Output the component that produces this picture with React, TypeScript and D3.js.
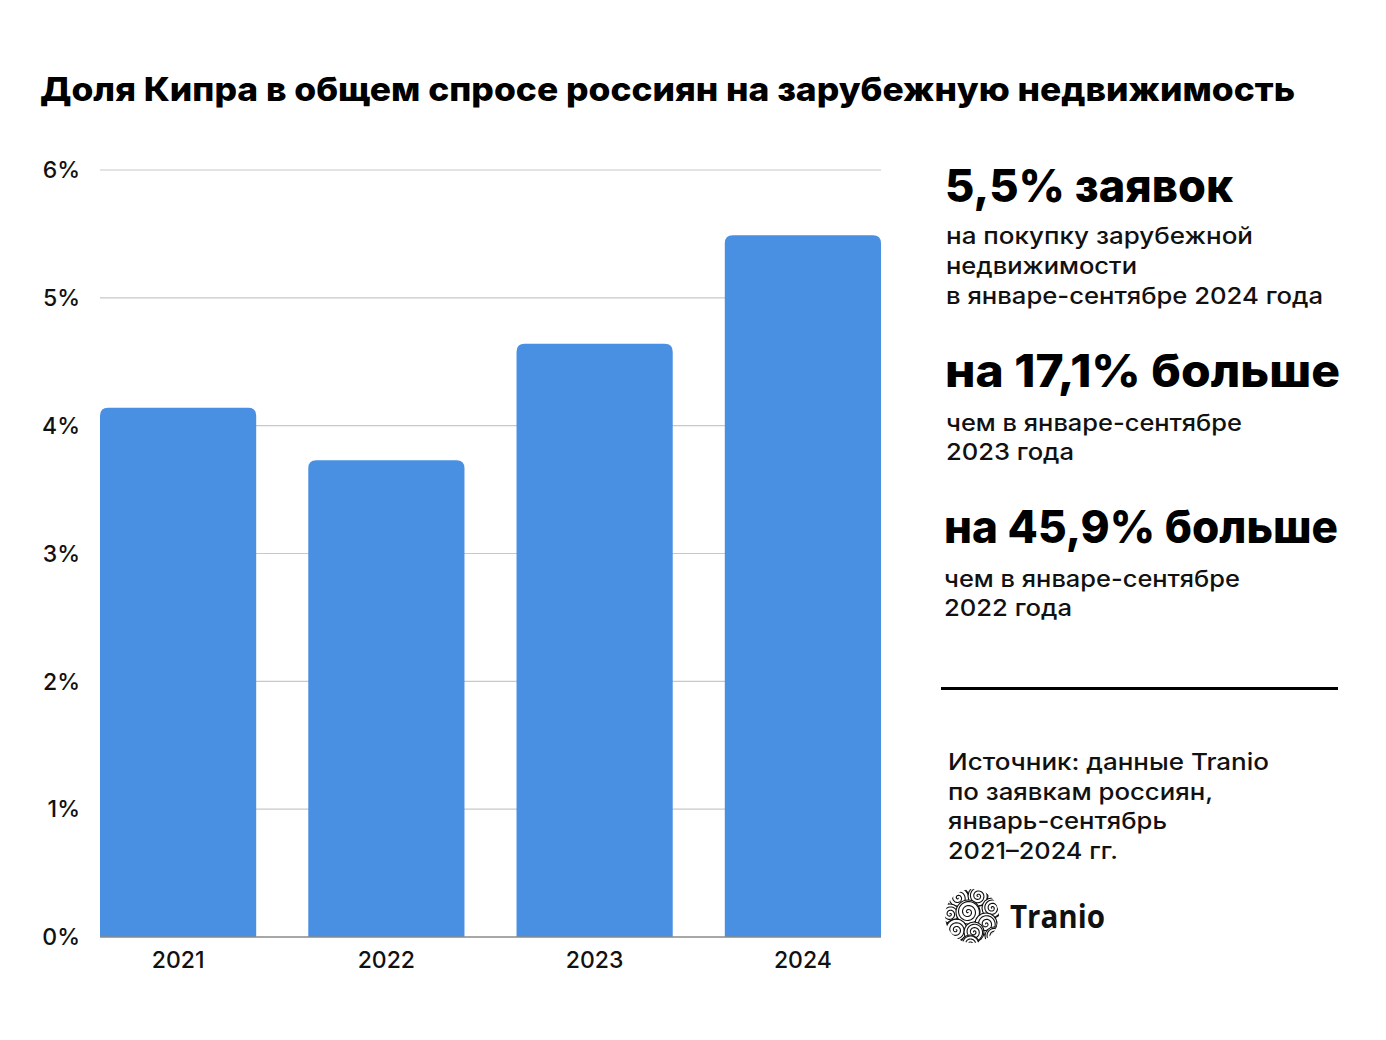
import React from "react";
import * as d3 from "d3";

const years = ["2021", "2022", "2023", "2024"];
const shares = [4.14, 3.73, 4.64, 5.49];
const yTicks = [0, 1, 2, 3, 4, 5, 6];

const title = "Доля Кипра в общем спросе россиян на зарубежную недвижимость";

const highlight1 = "5,5% заявок";
const highlight1Lines = ["на покупку зарубежной", "недвижимости", "в январе-сентябре 2024 года"];
const highlight2 = "на 17,1% больше";
const highlight2Lines = ["чем в январе-сентябре", "2023 года"];
const highlight3 = "на 45,9% больше";
const highlight3Lines = ["чем в январе-сентябре", "2022 года"];
const sourceLines = ["Источник: данные Tranio", "по заявкам россиян,", "январь-сентябрь", "2021–2024 гг."];

const W = 1386;
const H = 1040;
const plotLeft = 100;
const plotRight = 881;
const plotTop = 170;
const plotBottom = 937;

const FONT = "Inter, 'Noto Sans', 'DejaVu Sans', sans-serif";

function topRoundedBar(x: number, y: number, w: number, h: number, r: number) {
  const rr = Math.min(r, w / 2, h);
  return `M${x},${y + h}V${y + rr}Q${x},${y} ${x + rr},${y}H${x + w - rr}Q${x + w},${y} ${x + w},${y + rr}V${y + h}Z`;
}

function spiralPath(cx: number, cy: number, r: number, turns: number, rot: number) {
  const pts: [number, number][] = [];
  const n = 120;
  for (let i = 0; i <= n; i++) {
    const t = i / n;
    const a = rot + t * turns * 2 * Math.PI;
    const rad = r * t;
    pts.push([cx + rad * Math.cos(a), cy + rad * Math.sin(a)]);
  }
  return d3.line()(pts) as string;
}

const logoSpirals: [number, number, number, number][] = [
  [-14, -18, 11, 0.3],
  [6, -20, 10, 1.5],
  [20, -8, 10, 2.2],
  [-22, -2, 10, 4.0],
  [-4, -4, 12, 0.9],
  [14, 8, 11, 3.1],
  [-16, 14, 11, 5.0],
  [2, 16, 10, 2.7],
  [22, 20, 9, 1.2],
  [-2, 28, 9, 0.5],
];

function Logo({ cx, cy, r }: { cx: number; cy: number; r: number }) {
  return (
    <g>
      <defs>
        <clipPath id="logoClip">
          <circle cx={cx} cy={cy} r={r} />
        </clipPath>
      </defs>
      <g clipPath="url(#logoClip)">
        <circle cx={cx} cy={cy} r={r} fill="#fff" />
        {logoSpirals.map((s, i) => (
          <g key={i}>
            <circle cx={cx + s[0]} cy={cy + s[1]} r={s[2]} fill="#fff" stroke="#111" strokeWidth={1.1} />
            <path d={spiralPath(cx + s[0], cy + s[1], s[2], 3, s[3])} fill="none" stroke="#111" strokeWidth={1.1} />
          </g>
        ))}
      </g>
    </g>
  );
}

export default function App() {
  const x = d3.scaleBand<string>().domain(years).range([plotLeft, plotRight]).paddingInner(0.25).paddingOuter(0);
  const y = d3.scaleLinear().domain([0, 6]).range([plotBottom, plotTop]);

  const bigSize = 45;
  const smallSize = 23;

  return (
    <svg width={W} height={H} viewBox={`0 0 ${W} ${H}`} style={{ display: "block", position: "absolute", left: 0, top: 0, background: "#fff" }}>
      <rect x={0} y={0} width={W} height={H} fill="#fff" />
      <text x={40} y={101} fontFamily={FONT} fontWeight={800} fontSize={33} fill="#000" textLength={1255} lengthAdjust="spacingAndGlyphs">
        {title}
      </text>

      {yTicks.map((t) => (
        <g key={t}>
          {t > 0 && (
            <line x1={plotLeft} x2={plotRight} y1={y(t)} y2={y(t)} stroke="#c8c8c8" strokeWidth={1.2} />
          )}
          <text x={80} y={y(t)} dy="0.36em" textAnchor="end" fontFamily={FONT} fontWeight={500} fontSize={23} fill="#111">
            {`${t}%`}
          </text>
        </g>
      ))}

      {years.map((yr, i) => {
        const bx = x(yr) as number;
        const by = y(shares[i]);
        return (
          <path key={yr} d={topRoundedBar(bx, by, x.bandwidth(), plotBottom - by, 8)} fill="#4a90e2" />
        );
      })}
      <line x1={plotLeft} x2={plotRight} y1={plotBottom} y2={plotBottom} stroke="#8a8a8a" strokeWidth={1.5} />

      {years.map((yr) => (
        <text key={yr} x={(x(yr) as number) + x.bandwidth() / 2} y={968} textAnchor="middle" fontFamily={FONT} fontWeight={500} fontSize={23} fill="#111">
          {yr}
        </text>
      ))}

      <text x={945} y={202} fontFamily={FONT} fontWeight={800} fontSize={bigSize} fill="#000" textLength={288} lengthAdjust="spacingAndGlyphs">
        {highlight1}
      </text>
      {highlight1Lines.map((l, i) => (
        <text key={l} x={946} y={244 + i * 30} fontFamily={FONT} fontWeight={500} fontSize={smallSize} fill="#111" textLength={[307, 191, 377][i]} lengthAdjust="spacingAndGlyphs">
          {l}
        </text>
      ))}

      <text x={945} y={387} fontFamily={FONT} fontWeight={800} fontSize={bigSize} fill="#000" textLength={395} lengthAdjust="spacingAndGlyphs">
        {highlight2}
      </text>
      {highlight2Lines.map((l, i) => (
        <text key={l} x={946} y={431 + i * 29} fontFamily={FONT} fontWeight={500} fontSize={smallSize} fill="#111" textLength={[296, 128][i]} lengthAdjust="spacingAndGlyphs">
          {l}
        </text>
      ))}

      <text x={944} y={543} fontFamily={FONT} fontWeight={800} fontSize={bigSize} fill="#000" textLength={394} lengthAdjust="spacingAndGlyphs">
        {highlight3}
      </text>
      {highlight3Lines.map((l, i) => (
        <text key={l} x={944} y={587 + i * 29} fontFamily={FONT} fontWeight={500} fontSize={smallSize} fill="#111" textLength={[296, 128][i]} lengthAdjust="spacingAndGlyphs">
          {l}
        </text>
      ))}

      <line x1={941} x2={1338} y1={688.5} y2={688.5} stroke="#000" strokeWidth={3} />

      {sourceLines.map((l, i) => (
        <text key={l} x={948} y={770 + i * 29.5} fontFamily={FONT} fontWeight={500} fontSize={smallSize} fill="#111" textLength={[321, 265, 219, 170][i]} lengthAdjust="spacingAndGlyphs">
          {l}
        </text>
      ))}

      <Logo cx={972} cy={916} r={27} />
      <text x={1010} y={928} fontFamily="'Open Sans', Inter, sans-serif" fontWeight={700} fontSize={33} fill="#111" textLength={95} lengthAdjust="spacingAndGlyphs">
        Tranio
      </text>
    </svg>
  );
}
